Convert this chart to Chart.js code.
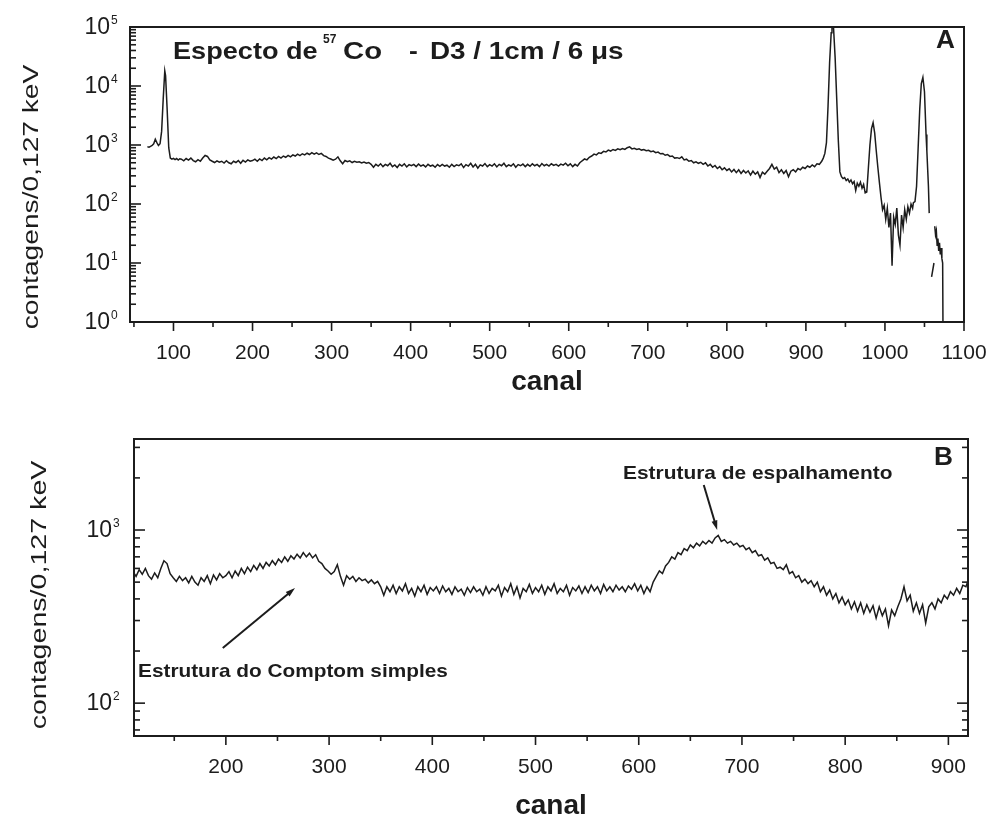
<!DOCTYPE html>
<html>
<head>
<meta charset="utf-8">
<title>Especto de 57Co</title>
<script src="https://cdn.jsdelivr.net/npm/chart.js@4.4.1/dist/chart.umd.min.js"></script>
<style>
  html, body { margin: 0; padding: 0; background: #fff; overflow: hidden; }
  #wrap { position: relative; width: 991px; height: 817px; }
  #chartA { position: absolute; left: 0; top: 0; }
  #chartB { position: absolute; left: 0; top: 400px; }
</style>
</head>
<body>
<div id="wrap">
  <canvas id="chartA" width="991" height="400"></canvas>
  <canvas id="chartB" width="991" height="417"></canvas>
</div>
<script>
// Espectro: [canal, contagens]
const picoInicial = [
  [67, 930], [69, 920], [71, 950], [73, 980], [75, 1050], [77, 1250], [79, 1100], [81, 980],
  [83, 1050], [85, 1700], [87, 6000], [89, 18000], [90, 15000], [92, 4000], [94, 900], [96, 600],
  [98, 575], [100, 595], [102, 565], [104, 590], [106, 555], [108, 585]
];

const continuo = [
  [110, 575], [113, 540], [116, 590], [119, 555], [122, 600], [125, 545], [128, 520], [131, 565], [134, 530], [137, 600],
  [140, 665], [143, 640], [146, 560], [149, 530], [152, 505], [155, 540], [158, 510], [161, 530], [164, 495], [167, 540],
  [170, 500], [173, 480], [176, 530], [179, 505], [182, 545], [185, 490], [188, 550], [191, 515], [194, 560], [197, 530],
  [200, 545], [203, 575], [206, 530], [209, 580], [212, 545], [215, 600], [218, 560], [221, 610], [224, 575], [227, 625],
  [230, 590], [233, 640], [236, 600], [239, 650], [242, 620], [245, 665], [248, 630], [251, 680], [254, 650], [257, 700],
  [260, 660], [263, 710], [266, 680], [269, 725], [272, 690], [275, 740], [278, 700], [281, 735], [284, 690], [287, 720],
  [290, 660], [293, 640], [296, 600], [299, 580], [302, 555], [305, 575], [308, 630], [311, 540], [314, 480], [317, 545],
  [320, 520], [323, 540], [326, 505], [329, 530], [332, 510], [335, 520], [338, 495], [341, 515], [344, 490], [347, 505],
  [350, 470], [353, 420], [356, 470], [359, 440], [362, 480], [365, 430], [368, 470], [371, 445], [374, 490], [377, 430],
  [380, 460], [383, 415], [386, 470], [389, 440], [392, 480], [395, 425], [398, 465], [401, 445], [404, 470], [407, 430],
  [410, 475], [413, 440], [416, 460], [419, 425], [422, 470], [425, 440], [428, 455], [431, 420], [434, 465], [437, 435],
  [440, 470], [443, 440], [446, 455], [449, 420], [452, 470], [455, 430], [458, 460], [461, 445], [464, 480], [467, 415],
  [470, 465], [473, 440], [476, 490], [479, 425], [482, 470], [485, 405], [488, 460], [491, 440], [494, 485], [497, 430],
  [500, 465], [503, 440], [506, 480], [509, 425], [512, 470], [515, 445], [518, 490], [521, 430], [524, 460], [527, 440],
  [530, 480], [533, 420], [536, 465], [539, 445], [542, 475], [545, 430], [548, 470], [551, 435], [554, 480], [557, 445],
  [560, 470], [563, 430], [566, 485], [569, 445], [572, 470], [575, 440], [578, 480], [581, 450], [584, 470], [587, 440],
  [590, 475], [593, 455], [596, 490], [599, 445], [602, 480], [605, 430], [608, 470], [611, 440], [614, 500], [617, 540],
  [620, 580], [623, 560], [626, 620], [629, 650], [632, 700], [635, 680], [638, 740], [641, 720], [644, 780], [647, 760],
  [650, 820], [653, 790], [656, 840], [659, 810], [662, 860], [665, 830], [668, 870], [671, 840], [674, 900], [677, 930],
  [680, 860], [683, 880], [686, 840], [689, 860], [692, 820], [695, 840], [698, 800], [701, 815], [704, 770], [707, 790],
  [710, 740], [713, 760], [716, 710], [719, 720], [722, 670], [725, 690], [728, 640], [731, 650], [734, 600], [737, 610],
  [740, 590], [743, 630], [746, 560], [749, 575], [752, 530], [755, 545], [758, 500], [761, 520], [764, 490], [767, 510],
  [770, 470], [773, 500], [776, 440], [779, 470], [782, 420], [785, 450], [788, 400], [791, 430], [794, 380], [797, 410],
  [800, 370], [803, 395], [806, 350], [809, 385], [812, 340], [815, 380], [818, 330], [821, 370], [824, 335], [827, 365],
  [830, 310], [833, 360], [836, 320], [839, 350], [842, 280], [845, 345], [848, 320], [851, 360], [854, 400], [857, 470],
  [860, 390], [863, 420], [866, 340], [869, 380], [872, 330], [875, 370], [878, 290], [881, 360], [884, 380], [887, 350],
  [890, 400], [893, 380], [896, 420], [899, 400], [902, 440], [905, 420], [908, 460], [911, 430], [914, 480], [917, 470]
];

const picosAltos = [
  [920, 530], [922, 600], [924, 720], [926, 1100], [928, 4500], [930, 25000], [932, 80000], [933, 105000],
  [934, 115000], [935, 95000], [937, 30000], [939, 6000], [941, 1200], [943, 350], [945, 290], [947, 270],
  [949, 280], [951, 250], [953, 265], [955, 235], [957, 255], [959, 220], [961, 240], [963, 170],
  [965, 225], [967, 200], [969, 235], [971, 185], [973, 215], [975, 155], [977, 160], [979, 400],
  [981, 1000], [983, 1900], [985, 2400], [987, 1600], [989, 800], [991, 420], [993, 230], [995, 130],
  [997, 80], [999, 95], [1001, 55], [1003, 85], [1005, 40], [1007, 70], [1009, 9], [1011, 60],
  [1013, 45], [1015, 85], [1017, 30], [1019, 20], [1021, 65], [1023, 40], [1025, 80], [1027, 55],
  [1029, 90], [1031, 70], [1033, 100], [1035, 85], [1036, 105], [1038, 110], [1040, 200], [1042, 900],
  [1044, 4000], [1046, 11000], [1048, 14000], [1050, 8000], [1052, 1500], [1053, 800], [1055, 200], [1056, 70]
];

const fragmento = [[1059, 5.8], [1062, 10]];

const cauda = [
  [1063, 42], [1064, 30], [1065, 35], [1066, 20], [1067, 26], [1068, 16], [1069, 22],
  [1070, 14], [1071, 18], [1072, 12], [1073, 10], [1073.5, 0.5]
];

// ticks
const xMaiorA = [100, 200, 300, 400, 500, 600, 700, 800, 900, 1000, 1100];
const xMenorA = [50, 150, 250, 350, 450, 550, 650, 750, 850, 950, 1050];
const yDecadasA = [1, 10, 100, 1000, 10000, 100000];
const xMaiorB = [200, 300, 400, 500, 600, 700, 800, 900];
const xMenorB = [150, 250, 350, 450, 550, 650, 750, 850];
const yDecadasB = [100, 1000];
const yMenorB = [70, 80, 90, 200, 300, 400, 500, 600, 700, 800, 900, 2000, 3000];
const multiplos = [2, 3, 4, 5, 6, 7, 8, 9];

// anotações (canal, contagens)
const setaEspalhamento = [[663, 1820], [676, 1000]];
const setaCompton = [[197, 208], [267, 462]];

const FONTE = "'Liberation Sans', Arial, Helvetica, sans-serif";
const COR = '#1c1c1c';

const pontos = seg => seg.map(p => ({ x: p[0], y: p[1] }));
const espectro = [
  ...pontos(picoInicial), ...pontos(continuo), ...pontos(picosAltos),
  { x: 1057.5, y: null }, ...pontos(fragmento),
  { x: 1062.5, y: null }, ...pontos(cauda)
];

const yMenorA = [];
yDecadasA.slice(0, -1).forEach(d => multiplos.forEach(m => yMenorA.push(d * m)));

function texto(ctx, txt, x, y, font, sx, align) {
  ctx.save();
  ctx.translate(x, y);
  ctx.scale(sx, 1);
  ctx.font = font;
  ctx.fillStyle = COR;
  ctx.textAlign = align || 'left';
  ctx.textBaseline = 'alphabetic';
  ctx.fillText(txt, 0, 0);
  ctx.restore();
}

function tituloVertical(ctx, txt, cx, cy, font, sx) {
  ctx.save();
  ctx.translate(cx, cy);
  ctx.rotate(-Math.PI / 2);
  ctx.scale(sx, 1);
  ctx.font = font;
  ctx.fillStyle = COR;
  ctx.textAlign = 'center';
  ctx.textBaseline = 'middle';
  ctx.fillText(txt, 0, 0);
  ctx.restore();
}

function seta(ctx, x1, y1, x2, y2) {
  const ang = Math.atan2(y2 - y1, x2 - x1);
  ctx.save();
  ctx.strokeStyle = COR;
  ctx.fillStyle = COR;
  ctx.lineWidth = 2;
  ctx.beginPath();
  ctx.moveTo(x1, y1);
  ctx.lineTo(x2 - 6 * Math.cos(ang), y2 - 6 * Math.sin(ang));
  ctx.stroke();
  ctx.beginPath();
  ctx.moveTo(x2, y2);
  ctx.lineTo(x2 - 10 * Math.cos(ang - 0.3), y2 - 10 * Math.sin(ang - 0.3));
  ctx.lineTo(x2 - 10 * Math.cos(ang + 0.3), y2 - 10 * Math.sin(ang + 0.3));
  ctx.closePath();
  ctx.fill();
  ctx.restore();
}

// moldura, marcas dos eixos e rótulos 10^n
const moldura = {
  id: 'moldura',
  afterDatasetsDraw(chart, args, o) {
    const { ctx, chartArea: a, scales: { x, y } } = chart;
    ctx.save();
    ctx.strokeStyle = COR;
    ctx.lineWidth = 2;
    ctx.strokeRect(a.left, a.top, a.right - a.left, a.bottom - a.top);
    ctx.lineWidth = 1.6;
    const marca = (px, py, dx, dy) => {
      ctx.beginPath(); ctx.moveTo(px, py); ctx.lineTo(px + dx, py + dy); ctx.stroke();
    };
    o.xMaior.forEach(v => marca(x.getPixelForValue(v), a.bottom, 0, 9));
    o.xMenor.forEach(v => marca(x.getPixelForValue(v), a.bottom, 0, 5));
    o.yMaior.forEach(v => marca(a.left, y.getPixelForValue(v), 11, 0));
    o.yMenor.forEach(v => marca(a.left, y.getPixelForValue(v), 6, 0));
    if (o.direita) {
      o.yMaior.forEach(v => marca(a.right, y.getPixelForValue(v), -11, 0));
      o.yMenor.forEach(v => marca(a.right, y.getPixelForValue(v), -6, 0));
    }
    ctx.fillStyle = COR;
    o.yMaior.forEach(v => {
      const py = y.getPixelForValue(v);
      ctx.font = '23px ' + FONTE;
      ctx.textAlign = 'right';
      ctx.textBaseline = 'middle';
      ctx.fillText('10', a.left - o.recuo, py + 1);
      ctx.font = '12px ' + FONTE;
      ctx.textAlign = 'left';
      ctx.fillText(String(Math.round(Math.log10(v))), a.left - o.recuo + 1, py - 6);
    });
    ctx.restore();
  }
};

const textosA = {
  id: 'textosA',
  afterDraw(chart) {
    const { ctx, chartArea: a } = chart;
    const negrito = 'bold 24px ' + FONTE;
    texto(ctx, 'Especto de', a.left + 43, 59, negrito, 1.13);
    texto(ctx, '57', a.left + 193, 43, 'bold 12px ' + FONTE, 1);
    texto(ctx, 'Co', a.left + 213, 59, negrito, 1.22);
    texto(ctx, '-', a.left + 279, 59, negrito, 1.1);
    texto(ctx, 'D3 / 1cm / 6 \u03bcs', a.left + 300, 59, negrito, 1.16);
    texto(ctx, 'A', a.right - 9, 48, 'bold 25px ' + FONTE, 1.05, 'right');
    tituloVertical(ctx, 'contagens/0,127 keV', 32, 197, '22px ' + FONTE, 1.28);
    texto(ctx, 'canal', (a.left + a.right) / 2, 390, 'bold 28px ' + FONTE, 1, 'center');
  }
};

const textosB = {
  id: 'textosB',
  afterDraw(chart) {
    const { ctx, chartArea: a, scales: { x, y } } = chart;
    texto(ctx, 'B', a.right - 15, a.top + 26, 'bold 25px ' + FONTE, 1.05, 'right');
    texto(ctx, 'Estrutura de espalhamento', a.left + 489, a.top + 40, 'bold 19px ' + FONTE, 1.1);
    texto(ctx, 'Estrutura do Comptom simples', a.left + 4, a.top + 238, 'bold 19px ' + FONTE, 1.095);
    const px = p => [x.getPixelForValue(p[0]), y.getPixelForValue(p[1])];
    const [e1, e2] = setaEspalhamento.map(px);
    seta(ctx, e1[0], e1[1], e2[0], e2[1]);
    const [c1, c2] = setaCompton.map(px);
    seta(ctx, c1[0], c1[1], c2[0], c2[1]);
    tituloVertical(ctx, 'contagens/0,127 keV', 40, 195, '22px ' + FONTE, 1.3);
    texto(ctx, 'canal', (a.left + a.right) / 2, 414, 'bold 28px ' + FONTE, 1, 'center');
  }
};

function opcoes(xMin, xMax, yMin, yMax, xTicks, larguraY, alturaX, pad, moldOpts) {
  return {
    responsive: false,
    animation: false,
    devicePixelRatio: 1,
    events: [],
    layout: { padding: pad },
    plugins: { legend: { display: false }, tooltip: { enabled: false }, moldura: moldOpts },
    scales: {
      x: {
        type: 'linear', min: xMin, max: xMax,
        grid: { display: false }, border: { display: false },
        afterBuildTicks: s => { s.ticks = xTicks.map(v => ({ value: v })); },
        ticks: {
          autoSkip: false, maxRotation: 0, padding: 11, color: COR,
          font: { family: FONTE, size: 21 },
          callback: v => String(v)
        },
        afterFit: s => { s.height = alturaX; s.paddingLeft = 0; s.paddingRight = 0; }
      },
      y: {
        type: 'logarithmic', min: yMin, max: yMax,
        grid: { display: false }, border: { display: false },
        ticks: { display: false },
        afterFit: s => { s.width = larguraY; s.paddingTop = 0; s.paddingBottom = 0; }
      }
    }
  };
}

const linha = () => ({
  data: espectro, borderColor: COR, borderWidth: 1.5,
  pointRadius: 0, tension: 0, fill: false, spanGaps: false
});

new Chart(document.getElementById('chartA'), {
  type: 'line',
  data: { datasets: [linha()] },
  options: opcoes(45, 1100, 1, 100000, xMaiorA, 130, 78, { top: 27, right: 27, left: 0, bottom: 0 },
    { xMaior: xMaiorA, xMenor: xMenorA, yMaior: yDecadasA, yMenor: yMenorA, direita: false, recuo: 20 }),
  plugins: [moldura, textosA]
});

new Chart(document.getElementById('chartB'), {
  type: 'line',
  data: { datasets: [linha()] },
  options: opcoes(111, 919, 64.6, 3355, xMaiorB, 134, 81, { top: 39, right: 23, left: 0, bottom: 0 },
    { xMaior: xMaiorB, xMenor: xMenorB, yMaior: yDecadasB, yMenor: yMenorB, direita: true, recuo: 22 }),
  plugins: [moldura, textosB]
});
</script>
</body>
</html>
